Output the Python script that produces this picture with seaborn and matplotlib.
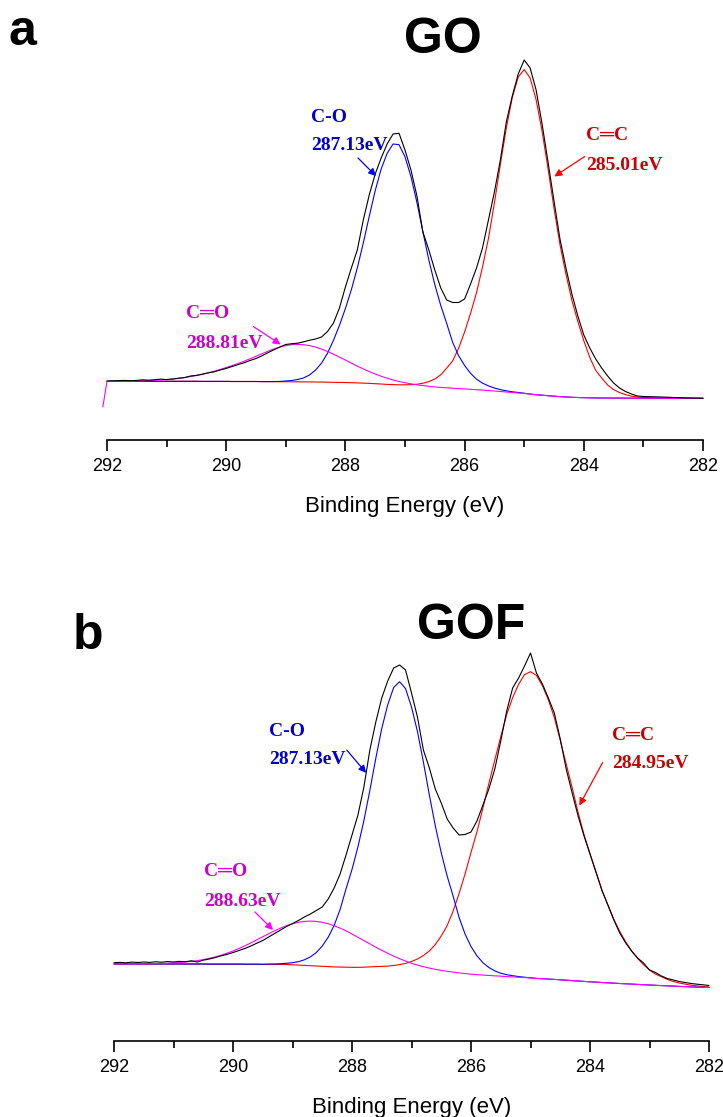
import numpy as np
import pandas as pd
import matplotlib
matplotlib.use("Agg")
import matplotlib.pyplot as plt
import seaborn as sns
from matplotlib.ticker import FixedLocator

# ---------------- data ----------------
# binding energy sampling, 292.0 -> 282.0 eV in 0.1 eV steps
energy = np.round(np.arange(292.0, 281.95, -0.1), 1)

major_ticks = [292, 290, 288, 286, 284, 282]
minor_ticks = [291, 289, 287, 285, 283]

# ---- panel a : GO  (intensity in arbitrary units) ----
GO_background = [
    58.7, 58.7, 58.7, 58.7, 58.7, 58.7, 58.7, 58.7, 58.7, 58.7,
    58.7, 58.7, 58.7, 58.7, 58.7, 58.7, 58.6, 58.6, 58.6, 58.6,
    58.6, 58.5, 58.5, 58.5, 58.5, 58.5, 58.4, 58.4, 58.4, 58.3,
    58.3, 58.2, 58.2, 58.1, 58.1, 58.0, 57.9, 57.8, 57.7, 57.6,
    57.5, 57.3, 57.1, 56.9, 56.6, 56.3, 56.0, 55.6, 55.2, 54.8,
    54.5, 54.1, 53.7, 53.3, 52.9, 52.5, 52.2, 51.9, 51.6, 51.3,
    51.0, 50.7, 50.3, 49.9, 49.5, 49.0, 48.5, 48.0, 47.5, 47.0,
    46.5, 45.9, 45.3, 44.8, 44.3, 43.8, 43.4, 43.0, 42.7, 42.5,
    42.3, 42.2, 42.1, 42.0, 42.0, 41.9, 41.9, 41.9, 41.8, 41.8,
    41.8, 41.8, 41.8, 41.8, 41.7, 41.7, 41.7, 41.7, 41.7, 41.7, 41.7]

GO_CC = [  # C=C component, height above background
    0, 0, 0, 0, 0, 0, 0, 0, 0, 0,
    0, 0, 0, 0, 0, 0, 0, 0, 0, 0,
    0, 0, 0, 0, 0, 0, 0, 0, 0, 0,
    0, 0, 0, 0, 0, 0, 0, 0, 0, 0,
    0, 0, 0, 0, 0, 0, 0, 0, 0.2, 0.4,
    0.7, 1.2, 2, 3.5, 5.5, 8.5, 13, 20, 27.5, 40.5,
    57, 76, 97, 123, 152, 188, 227, 264, 295, 316,
    324, 316, 295, 264, 227, 188, 152, 123, 97, 76,
    57, 40.5, 27.5, 20, 13, 8.5, 5.5, 3.5, 2, 1.2,
    0.7, 0.4, 0.2, 0, 0, 0, 0, 0, 0, 0, 0]

GO_CO = [  # C-O component
    0, 0, 0, 0, 0, 0, 0, 0, 0, 0,
    0, 0, 0, 0, 0, 0, 0, 0, 0, 0,
    0, 0, 0, 0, 0, 0, 0, 0, 0, 0.3,
    0.7, 1.3, 2.3, 4, 7, 12, 19, 29, 42, 57,
    74, 93, 115, 140, 167, 193, 215, 231, 240.8, 240.5,
    228.7, 209.3, 183.9, 154.9, 127.1, 102.9, 82.3, 64.6, 46, 33,
    23.5, 16, 10.5, 7, 4.6, 3, 1.9, 1.2, 0.7, 0.5,
    0.3, 0, 0, 0, 0, 0, 0, 0, 0, 0,
    0, 0, 0, 0, 0, 0, 0, 0, 0, 0,
    0, 0, 0, 0, 0, 0, 0, 0, 0, 0, 0]

GO_CdO = [  # C=O component
    0, 0, 0, 0.1, 0.2, 0.3, 0.5, 0.7, 1.0, 1.3,
    1.7, 2.2, 2.9, 3.7, 4.7, 5.8, 7.1, 8.6, 10.2, 12.0,
    13.9, 15.9, 18.0, 20.3, 22.7, 25.2, 27.8, 30.3, 32.6, 34.6,
    36.2, 37.2, 37.5, 37.2, 36.3, 34.9, 33.0, 30.7, 28.1, 25.3,
    22.5, 19.6, 16.8, 14.2, 11.8, 9.7, 7.8, 6.2, 4.8, 3.7,
    2.8, 2.1, 1.5, 1.1, 0.8, 0.55, 0.4, 0.27, 0.18, 0.12,
    0.08, 0, 0, 0, 0, 0, 0, 0, 0, 0,
    0, 0, 0, 0, 0, 0, 0, 0, 0, 0,
    0, 0, 0, 0, 0, 0, 0, 0, 0, 0,
    0, 0, 0, 0, 0, 0, 0, 0, 0, 0, 0]

GO_envelope = [  # measured spectrum
    59.0, 59.2, 59.4, 59.6, 59.3, 59.6, 60.2, 59.8, 60.3, 60.9,
    60.4, 61.0, 61.8, 62.4, 64.0, 64.6, 65.8, 67.2, 68.2, 70.0,
    71.6, 73.5, 75.4, 77.2, 79.5, 81.5, 84.2, 87.3, 90.2, 93.0,
    95.5, 96.3, 96.8, 98.2, 99.8, 101.0, 103.0, 108.5, 117, 132,
    153, 172, 190, 220, 245, 266, 282, 296, 306, 306.7,
    290, 270, 244, 208, 190, 170, 152, 140, 137.5, 137.5,
    141, 156, 172, 192, 220, 248, 280, 318, 344, 366,
    380, 372, 350, 316, 278, 239, 201, 172, 146, 124,
    105, 92, 81, 72, 64, 57, 52, 48.5, 46, 44,
    43.5, 43.3, 43.2, 43.0, 42.8, 42.5, 42.3, 42.1, 42.0, 41.8, 41.7]

GO_start_energy = [292.07, 292.0]   # start-up glitch of the fit curve
GO_start_value = [33.0, 58.7]

# ---- panel b : GOF ----
GOF_background = [
    77.0, 77.0, 77.0, 77.0, 77.0, 77.0, 77.0, 77.0, 77.0, 77.0,
    77.0, 77.0, 77.0, 77.0, 77.0, 77.0, 76.9, 76.9, 76.9, 76.9,
    76.9, 76.9, 76.8, 76.8, 76.8, 76.7, 76.7, 76.6, 76.6, 76.5,
    76.4, 76.3, 76.2, 76.1, 76.0, 75.9, 75.8, 75.6, 75.5, 75.4,
    75.2, 75.0, 74.8, 74.6, 74.3, 74.0, 73.6, 73.2, 72.7, 72.1,
    71.5, 71.0, 70.5, 70.0, 69.5, 69.0, 68.5, 68.0, 67.5, 67.0,
    66.5, 66.2, 65.8, 65.5, 65.1, 64.8, 64.4, 64.1, 63.7, 63.4,
    63.0, 62.6, 62.3, 61.9, 61.6, 61.2, 60.8, 60.4, 60.0, 59.6,
    59.2, 58.9, 58.5, 58.2, 57.8, 57.5, 57.2, 56.9, 56.6, 56.3,
    56.0, 55.7, 55.4, 55.2, 54.9, 54.6, 54.4, 54.1, 53.9, 53.7, 53.5]

GOF_CC = [
    0, 0, 0, 0, 0, 0, 0, 0, 0, 0,
    0, 0, 0, 0, 0, 0, 0, 0, 0, 0,
    0, 0, 0, 0, 0, 0, 0, 0, 0, 0,
    -0.2, -0.4, -0.6, -0.8, -1.0, -1.2, -1.4, -1.5, -1.6, -1.6,
    -1.5, -1.3, -1.0, -0.5, 0.1, 0.6, 1.3, 2.3, 3.7, 5.5,
    8, 11, 15, 20, 27, 36, 47, 62, 80, 100,
    122, 143, 167, 192, 216, 239.5, 262, 279.3, 293, 303,
    306.3, 303, 293, 279.3, 261.9, 239.5, 216.2, 193, 168.5, 146.7,
    128, 110.3, 92, 78, 64, 52, 42, 33, 26, 20,
    15, 11.2, 8.9, 6.4, 4.6, 3.4, 2.5, 1.7, 1.2, 0.8, 0.5]

GOF_CO = [
    0, 0, 0, 0, 0, 0, 0, 0, 0, 0,
    0, 0, 0, 0, 0, 0, 0, 0, 0, 0,
    0, 0, 0, 0, 0, 0, 0.2, 0.4, 0.7, 1.2,
    1.9, 3, 5, 8, 12.5, 19, 28, 40, 56, 76.8,
    96.3, 119.2, 145.6, 176, 208.4, 238.5, 262.5, 280.3, 286.6, 280.3,
    262.5, 238.5, 208.4, 176, 145.6, 119.2, 96.3, 76.8, 56, 40,
    28, 19, 12.5, 8, 5, 3, 1.9, 1.2, 0.7, 0.4,
    0.2, 0, 0, 0, 0, 0, 0, 0, 0, 0,
    0, 0, 0, 0, 0, 0, 0, 0, 0, 0,
    0, 0, 0, 0, 0, 0, 0, 0, 0, 0, 0]

GOF_CdO = [
    0.02, 0.04, 0.06, 0.09, 0.13, 0.2, 0.28, 0.4, 0.55, 0.8,
    1.1, 1.4, 2.0, 2.6, 3.4, 4.4, 5.7, 7.1, 8.8, 10.9,
    13.1, 15.6, 18.4, 21.3, 24.4, 27.5, 30.6, 33.6, 36.3, 38.8,
    40.8, 42.4, 43.4, 43.8, 43.6, 42.8, 41.5, 39.6, 37.4, 34.7,
    31.8, 28.7, 25.6, 22.5, 19.5, 16.7, 14.1, 11.7, 9.6, 7.8,
    6.2, 4.9, 3.8, 2.9, 2.2, 1.6, 1.2, 0.9, 0.6, 0.45,
    0.3, 0.2, 0.13, 0.08, 0.05, 0.03, 0, 0, 0, 0,
    0, 0, 0, 0, 0, 0, 0, 0, 0, 0,
    0, 0, 0, 0, 0, 0, 0, 0, 0, 0,
    0, 0, 0, 0, 0, 0, 0, 0, 0, 0, 0]

GOF_envelope = [
    78.3, 78.6, 78.2, 78.9, 78.5, 79.0, 78.6, 79.2, 78.8, 79.4,
    79.0, 79.6, 79.3, 80.2, 79.0, 80.8, 82.0, 83.4, 85.2, 86.6,
    88.5, 90.5, 92.5, 95, 97.8, 100.5, 104, 107.5, 111, 114.5,
    117.5, 120.5, 124, 127, 130.5, 134, 142, 153, 167, 186,
    206, 226, 254, 291, 319, 343, 360, 373, 376, 371,
    348, 324, 291, 273, 252, 238, 222, 213, 206, 206.5,
    209, 220, 236, 252, 272, 300, 330, 353, 363, 375,
    388, 368, 357, 343, 328, 302, 272, 248, 225, 205,
    187, 169, 151, 136, 121, 108, 98, 90, 83, 78,
    71, 68.5, 65, 62.5, 61, 59.5, 58.5, 57.5, 56.8, 56.2, 55.5]

# annotation texts
GO_labels = [("C-O", "287.13eV"), ("C\u2550C", "285.01eV"), ("C\u2550O", "288.81eV")]
GOF_labels = [("C-O", "287.13eV"), ("C\u2550C", "284.95eV"), ("C\u2550O", "288.63eV")]

# ---------------- drawing ----------------
sns.set_style("white")
plt.rcParams["font.family"] = ["Liberation Sans", "DejaVu Sans"]
plt.rcParams["text.color"] = "black"
plt.rcParams["axes.labelcolor"] = "black"
plt.rcParams["xtick.color"] = "black"

W, H = 723, 1117
fig = plt.figure(figsize=(W / 100, H / 100), dpi=100)

RED, BLUE, MAG = "#FF0000", "#0000FF", "#FF00FF"
TRED, TBLUE, TMAG = "#CC0000", "#0000CC", "#CC00CC"
SERIF = ["Liberation Serif", "DejaVu Sans"]


def panel(left_px, right_px, axis_px, top_px, bg, cc, co, cdo, env):
    ax = fig.add_axes([left_px / W, 1 - axis_px / H,
                       (right_px - left_px) / W, (axis_px - top_px) / H])
    bg = np.array(bg, float)
    df = pd.DataFrame({
        "energy": energy,
        "cc": bg + np.array(cc, float),
        "co": bg + np.array(co, float),
        "cdo": bg + np.array(cdo, float),
        "env": np.array(env, float),
    })
    for col, colr in (("cc", RED), ("co", BLUE), ("cdo", MAG), ("env", "black")):
        sns.lineplot(data=df, x="energy", y=col, ax=ax, color=colr, lw=0.8,
                     sort=False, estimator=None)
    for ln in ax.lines:
        ln.set_clip_on(False)
    ax.set_xlim(292, 282)
    ax.set_ylim(0, axis_px - top_px)
    for s in ("left", "right", "top"):
        ax.spines[s].set_visible(False)
    ax.spines["bottom"].set_linewidth(1.2)
    ax.spines["bottom"].set_color("black")
    ax.set_yticks([])
    ax.set_ylabel("")
    ax.xaxis.set_major_locator(FixedLocator(major_ticks))
    ax.xaxis.set_minor_locator(FixedLocator(minor_ticks))
    ax.tick_params(axis="x", which="major", bottom=True, direction="out",
                   length=8, width=1.2, labelsize=13, pad=5, colors="black")
    ax.tick_params(axis="x", which="minor", bottom=True, direction="out",
                   length=5, width=1.2)
    ax.set_xlabel("Binding Energy (eV)", fontsize=16, labelpad=15, color="black")
    return ax


ax_a = panel(107, 703, 440, 40, GO_background, GO_CC, GO_CO, GO_CdO, GO_envelope)
sns.lineplot(x=GO_start_energy, y=GO_start_value, ax=ax_a, color=MAG, lw=0.8,
             sort=False, estimator=None)
ax_a.lines[-1].set_clip_on(False)

ax_b = panel(114, 709, 1041, 641, GOF_background, GOF_CC, GOF_CO, GOF_CdO, GOF_envelope)


def ftext(x, y, s, **kw):
    fig.text(x / W, 1 - y / H, s, **kw)


def arrow(x0, y0, x1, y1, color):
    fig.add_artist(matplotlib.patches.FancyArrowPatch(
        (x0 / W, 1 - y0 / H), (x1 / W, 1 - y1 / H), transform=fig.transFigure,
        arrowstyle="-|>", mutation_scale=11, color=color, lw=0.9))


# panel letters and titles
bold = dict(fontsize=36, fontweight="bold", color="black", va="baseline")
ftext(8, 45, "a", ha="left", **bold)
ftext(443, 53, "GO", ha="center", **bold)
ftext(73, 649, "b", ha="left", **bold)
ftext(471, 639, "GOF", ha="center", **bold)

ann = dict(fontsize=14, fontweight="bold", family=SERIF, ha="left", va="center")

# panel a annotations
ftext(311, 118, GO_labels[0][0], color=TBLUE, **ann)
ftext(311, 146, GO_labels[0][1], color=TBLUE, **ann)
arrow(356, 156, 378, 178, BLUE)
ftext(586, 136, GO_labels[1][0], color=TRED, **ann)
ftext(586, 165, GO_labels[1][1], color=TRED, **ann)
arrow(587, 155, 552, 178, RED)
ftext(186, 314, GO_labels[2][0], color=TMAG, **ann)
ftext(186, 343, GO_labels[2][1], color=TMAG, **ann)
arrow(251, 325, 283, 346, MAG)

# panel b annotations
ftext(269, 731, GOF_labels[0][0], color=TBLUE, **ann)
ftext(269, 760, GOF_labels[0][1], color=TBLUE, **ann)
arrow(345, 748, 368, 775, BLUE)
ftext(612, 735, GOF_labels[1][0], color=TRED, **ann)
ftext(612, 763, GOF_labels[1][1], color=TRED, **ann)
arrow(604, 760, 578, 808, RED)
ftext(204, 872, GOF_labels[2][0], color=TMAG, **ann)
ftext(204, 901, GOF_labels[2][1], color=TMAG, **ann)
arrow(253, 910, 275, 932, MAG)

fig.savefig("out.png", dpi=100)
